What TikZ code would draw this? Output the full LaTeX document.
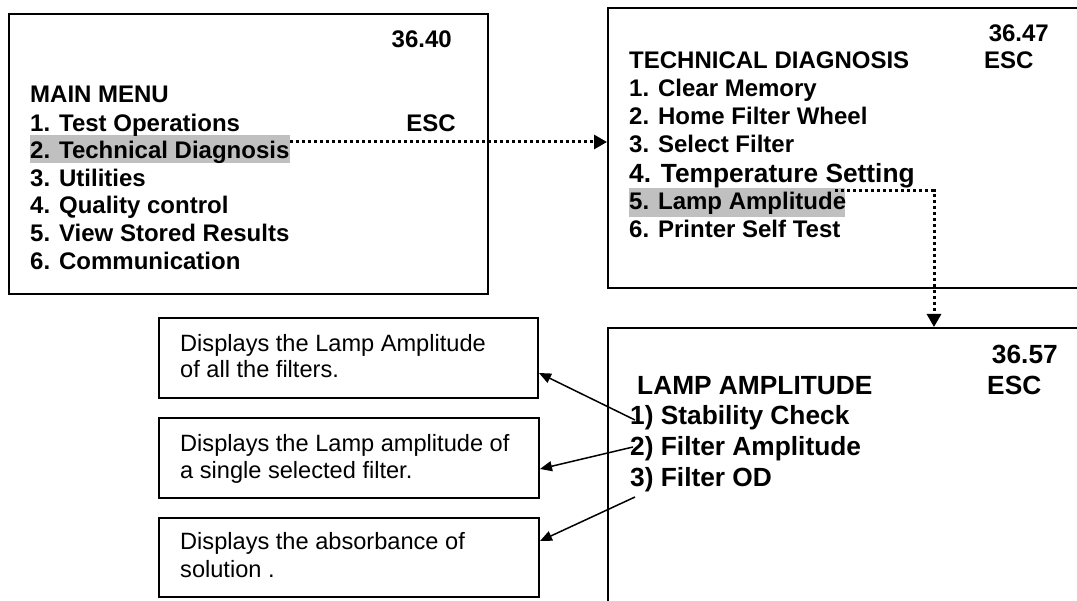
\documentclass[tikz,border=0pt]{standalone}
\usepackage{fontspec}
\setmainfont{Liberation Sans}
\usetikzlibrary{arrows.meta}
\definecolor{hlgray}{RGB}{192,192,192}
\begin{document}
\begin{tikzpicture}[x=1pt,y=-1pt,
  frame/.style={draw, line width=2pt, inner sep=0pt, anchor=north west},
  hilite/.style={fill=hlgray, inner sep=0pt, anchor=north west},
  menu/.style={anchor=base west, inner sep=0pt, font=\fontsize{24}{28}\bfseries\selectfont},
  menur/.style={menu, anchor=base east},
  menubig/.style={menu, font=\fontsize{26.3}{30}\bfseries\selectfont},
  menubigr/.style={menubig, anchor=base east},
  desc/.style={anchor=base west, inner sep=0pt, font=\fontsize{23.6}{27}\selectfont},
  dotarrow/.style={line width=3pt, dash pattern=on 3.3pt off 2.7pt, -{Triangle[length=13pt,width=14pt]}},
  solarrow/.style={line width=1.5pt, -{Triangle[length=12pt,width=10pt]}}]
\useasboundingbox (0,0) rectangle (1077,601);
\clip (0,0) rectangle (1077,601);
\fill[white] (0,0) rectangle (1077,601);

% frames
\node[frame, minimum width=479pt, minimum height=280pt] (b1) at (8,13) {};
\node[frame, minimum width=520pt, minimum height=280pt] (b2) at (607,7) {};
\node[frame, minimum width=520pt, minimum height=320pt] (b3) at (607,327) {};
\node[frame, minimum width=379pt, minimum height=80pt] (bA) at (158,317) {};
\node[frame, minimum width=380pt, minimum height=80pt] (bB) at (158,417) {};
\node[frame, minimum width=380pt, minimum height=79pt] (bC) at (158,517) {};

% highlights
\node[hilite, minimum width=260pt, minimum height=28pt] (h1) at (30,135) {};
\node[hilite, minimum width=216pt, minimum height=29pt] (h2) at (629,188) {};

% box 1 text
\node[menur] (t1a) at (452,48) {36.40};
\node[menu] (t1b) at (30,103) {MAIN MENU};
\node[menu] (t1c) at (30,131.5) {1. Test Operations};
\node[menur] (t1esc) at (456,131.5) {ESC};
\node[menu] (t1d) at (30,159) {2. Technical Diagnosis};
\node[menu] (t1e) at (30,186.5) {3. Utilities};
\node[menu] (t1f) at (30,214) {4. Quality control};
\node[menu] (t1g) at (30,242) {5. View Stored Results};
\node[menu] (t1h) at (30,269.5) {6. Communication};

% box 2 text
\node[menur] (t2a) at (1049,42) {36.47};
\node[menu] (t2b) at (629,69) {TECHNICAL DIAGNOSIS};
\node[menu] (t2esc) at (984,69) {ESC};
\node[menu] (t2c) at (629,97) {1. Clear Memory};
\node[menu] (t2d) at (629,125) {2. Home Filter Wheel};
\node[menu] (t2e) at (629,153) {3. Select Filter};
\node[menubig] (t2f) at (629,183) {4. Temperature Setting};
\node[menu] (t2g) at (629,210) {5. Lamp Amplitude};
\node[menu] (t2h) at (629,238) {6. Printer Self Test};

% box 3 text
\node[menubigr] (t3a) at (1058,364) {36.57};
\node[menubig] (t3b) at (637,395) {LAMP AMPLITUDE};
\node[menubig] (t3esc) at (987,395) {ESC};
\node[menubig] (t3c) at (630,425) {1) Stability Check};
\node[menubig] (t3d) at (630,456) {2) Filter Amplitude};
\node[menubig] (t3e) at (630,487) {3) Filter OD};

% description texts
\node[desc] (dA1) at (180,352) {Displays the Lamp Amplitude};
\node[desc] (dA2) at (180,378) {of all the filters.};
\node[desc] (dB1) at (180,452) {Displays the Lamp amplitude of};
\node[desc] (dB2) at (180,479) {a single selected filter.};
\node[desc] (dC1) at (180,550) {Displays the absorbance of};
\node[desc] (dC2) at (180,577) {solution .};

% connectors
\coordinate (s1) at (290,142);
\draw[dotarrow] (s1) -- (s1 -| b2.west);
\coordinate (s2) at (835,191);
\coordinate (k2) at (934,191);
\draw[dotarrow] (s2) -- (k2) -- (k2 |- b3.north);

\coordinate (e1) at (635,420);
\coordinate (e2) at (633,447);
\coordinate (e3) at (635,497);
\draw[solarrow] (e1) -- ([yshift=-15pt]bA.east);
\draw[solarrow] (e2) -- ([yshift=-11pt]bB.east);
\draw[solarrow] (e3) -- ([yshift=16.5pt]bC.east);
\end{tikzpicture}
\end{document}
